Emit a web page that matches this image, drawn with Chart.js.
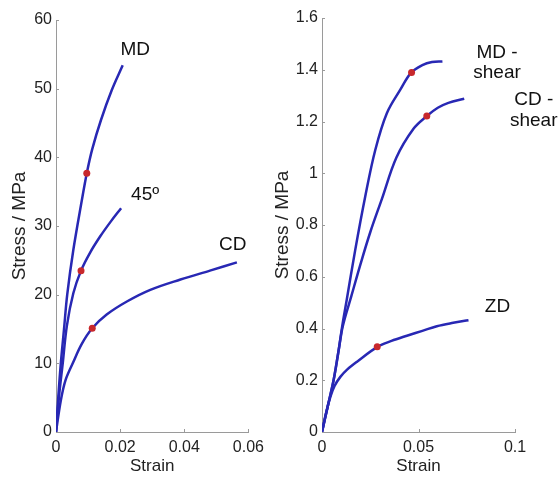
<!DOCTYPE html>
<html>
<head>
<meta charset="utf-8">
<script src="https://cdn.jsdelivr.net/npm/chart.js@4.4.1/dist/chart.umd.min.js"></script>
<style>
  body { margin: 0; background: #fff; }
  #wrap { position: relative; width: 559px; height: 479px; overflow: hidden; background: #fff; }
  canvas { position: absolute; top: 0; }
</style>
</head>
<body>
<div id="wrap">
  <canvas id="leftChart" width="270" height="479" style="left:0px"></canvas>
  <canvas id="rightChart" width="289" height="479" style="left:270px"></canvas>
</div>
<script>
// ---- left panel: in-plane tension (stress in MPa)
var mdStrain  = [0, 0.0007, 0.0015, 0.0025, 0.0035, 0.0054, 0.0080, 0.0096, 0.0113, 0.0140, 0.0174, 0.0208];
var mdStress  = [0, 5, 10, 15, 20, 26.5, 33.6, 37.7, 41.2, 45.4, 49.8, 53.4];
var degStrain = [0, 0.0009, 0.0021, 0.0034, 0.0054, 0.0078, 0.0106, 0.0138, 0.0170, 0.0203];
var degStress = [0, 5, 10, 15.5, 20.2, 23.5, 26.1, 28.5, 30.6, 32.6];
var cdStrain  = [0, 0.0015, 0.0030, 0.0054, 0.0080, 0.0113, 0.0158, 0.0221, 0.0294, 0.0388, 0.0480, 0.0564];
var cdStress  = [0, 4.6, 7.6, 10.2, 12.8, 15.1, 17.1, 19, 20.7, 22.2, 23.5, 24.7];
var leftDotStrain = [0.0096, 0.0078, 0.0113];
var leftDotStress = [37.7, 23.5, 15.1];
var leftXTicks = [0, 0.02, 0.04, 0.06];
var leftXLabels = ['0', '0.02', '0.04', '0.06'];
var leftYTicks = [0, 10, 20, 30, 40, 50, 60];
var leftYLabels = ['0', '10', '20', '30', '40', '50', '60'];
var leftNames = ['MD', '45º', 'CD'];

// ---- right panel: shear and out-of-plane (stress in MPa)
var mdsStrain = [0, 0.003, 0.006, 0.0085, 0.0105, 0.0128, 0.0172, 0.0224, 0.0276, 0.0336, 0.0405, 0.0462, 0.0520, 0.0570, 0.0624];
var mdsStress = [0, 0.1, 0.2, 0.31, 0.41, 0.51, 0.703, 0.91, 1.09, 1.232, 1.322, 1.389, 1.418, 1.43, 1.432];
var cdsStrain = [0, 0.003, 0.006, 0.0085, 0.0108, 0.0152, 0.0198, 0.0250, 0.0310, 0.0385, 0.0474, 0.0543, 0.0600, 0.0655, 0.0737];
var cdsStress = [0, 0.1, 0.2, 0.31, 0.41, 0.525, 0.645, 0.772, 0.9, 1.06, 1.172, 1.221, 1.253, 1.272, 1.288];
var zdStrain  = [0, 0.002, 0.0043, 0.0065, 0.0095, 0.013, 0.018, 0.0287, 0.036, 0.044, 0.052, 0.0595, 0.068, 0.0759];
var zdStress  = [0, 0.07, 0.135, 0.178, 0.213, 0.241, 0.271, 0.329, 0.352, 0.372, 0.391, 0.409, 0.422, 0.432];
var rightDotStrain = [0.0464, 0.0543, 0.0286];
var rightDotStress = [1.389, 1.221, 0.329];
var rightXTicks = [0, 0.05, 0.1];
var rightXLabels = ['0', '0.05', '0.1'];
var rightYTicks = [0, 0.2, 0.4, 0.6, 0.8, 1, 1.2, 1.4, 1.6];
var rightYLabels = ['0', '0.2', '0.4', '0.6', '0.8', '1', '1.2', '1.4', '1.6'];
var rightNames = [['MD -', 'shear'], ['CD -', 'shear'], ['ZD']];

// where the curve names sit, in data units
var leftNameX = [0.0247, 0.0278, 0.0551];
var leftNameY = [55.7, 34.5, 27.3];
var rightNameX = [0.0907, 0.1097, 0.0909];
var rightNameY = [1.466, 1.283, 0.484];

var FONT = "'Liberation Sans', Arial, sans-serif";
var LINE = '#2828b4';
var DOT = '#c8282c';

function zip(xs, ys) {
  var out = [];
  for (var i = 0; i < xs.length; i++) out.push({x: xs[i], y: ys[i]});
  return out;
}

function curve(xs, ys) {
  return {
    data: zip(xs, ys),
    borderColor: LINE,
    borderWidth: 2.5,
    pointRadius: 0,
    showLine: true,
    tension: 0.35,
    fill: false,
    order: 2
  };
}

function dots(xs, ys) {
  return {
    data: zip(xs, ys),
    showLine: false,
    pointRadius: 3.5,
    pointBackgroundColor: DOT,
    pointBorderColor: DOT,
    pointBorderWidth: 0,
    order: 1
  };
}

// small tick marks pointing into the plot, like the original
const innerTicks = {
  id: 'innerTicks',
  beforeDatasetsDraw(chart) {
    const {ctx, chartArea, scales} = chart;
    ctx.save();
    ctx.strokeStyle = '#9a9a9a';
    ctx.lineWidth = 1;
    scales.x.ticks.forEach(t => {
      const px = Math.round(scales.x.getPixelForValue(t.value)) + 0.5;
      ctx.beginPath();
      ctx.moveTo(px, chartArea.bottom);
      ctx.lineTo(px, chartArea.bottom - 3);
      ctx.stroke();
    });
    scales.y.ticks.forEach(t => {
      const py = Math.round(scales.y.getPixelForValue(t.value)) + 0.5;
      ctx.beginPath();
      ctx.moveTo(chartArea.left, py);
      ctx.lineTo(chartArea.left + 3, py);
      ctx.stroke();
    });
    ctx.restore();
  }
};

const curveNames = {
  id: 'curveNames',
  afterDraw(chart, args, opts) {
    const ctx = chart.ctx;
    const sx = chart.scales.x, sy = chart.scales.y;
    ctx.save();
    ctx.font = '19px ' + FONT;
    ctx.fillStyle = '#111';
    ctx.textAlign = 'center';
    ctx.textBaseline = 'middle';
    opts.names.forEach((name, i) => {
      const lines = Array.isArray(name) ? name : [name];
      const px = sx.getPixelForValue(opts.xs[i]);
      const py = sy.getPixelForValue(opts.ys[i]);
      lines.forEach((s, j) => ctx.fillText(s, px, py + j * 20.5));
    });
    ctx.restore();
  }
};

function makePanel(id, cfg) {
  return new Chart(document.getElementById(id), {
    type: 'scatter',
    data: { datasets: cfg.datasets },
    plugins: [innerTicks, curveNames],
    options: {
      responsive: false,
      animation: false,
      devicePixelRatio: 1,
      layout: { padding: { left: 0, right: cfg.padRight, top: cfg.padTop, bottom: 0 } },
      plugins: {
        legend: { display: false },
        tooltip: { enabled: false },
        curveNames: { names: cfg.names, xs: cfg.nameX, ys: cfg.nameY }
      },
      scales: {
        x: {
          type: 'linear',
          min: cfg.xTicks[0],
          max: cfg.xTicks[cfg.xTicks.length - 1],
          afterBuildTicks: s => { s.ticks = cfg.xTicks.map(v => ({value: v})); },
          afterFit: s => { s.height = 47; },
          grid: { display: true, drawOnChartArea: false, drawTicks: false },
          border: { display: true, color: '#9a9a9a', width: 1 },
          ticks: {
            padding: 6,
            color: '#222',
            font: { family: FONT, size: 16 },
            maxRotation: 0,
            autoSkip: false,
            callback: (v, i) => cfg.xLabels[i]
          },
          title: {
            display: true,
            text: 'Strain',
            color: '#222',
            font: { family: FONT, size: 17 },
            padding: { top: 0, bottom: 2 }
          }
        },
        y: {
          type: 'linear',
          min: cfg.yTicks[0],
          max: cfg.yTicks[cfg.yTicks.length - 1],
          afterBuildTicks: s => { s.ticks = cfg.yTicks.map(v => ({value: v})); },
          afterFit: s => { s.width = cfg.yWidth; },
          grid: { display: true, drawOnChartArea: false, drawTicks: false },
          border: { display: true, color: '#9a9a9a', width: 1 },
          ticks: {
            padding: 4,
            color: '#222',
            font: { family: FONT, size: 16 },
            autoSkip: false,
            callback: (v, i) => cfg.yLabels[i]
          },
          title: {
            display: true,
            text: 'Stress / MPa',
            color: '#222',
            font: { family: FONT, size: 19 },
            padding: { top: cfg.titlePad, bottom: 0 }
          }
        }
      }
    }
  });
}

makePanel('leftChart', {
  datasets: [
    curve(mdStrain, mdStress),
    curve(degStrain, degStress),
    curve(cdStrain, cdStress),
    dots(leftDotStrain, leftDotStress)
  ],
  xTicks: leftXTicks, xLabels: leftXLabels,
  yTicks: leftYTicks, yLabels: leftYLabels,
  names: leftNames, nameX: leftNameX, nameY: leftNameY,
  yWidth: 56, padRight: 21, padTop: 20, titlePad: 8.6
});

makePanel('rightChart', {
  datasets: [
    curve(mdsStrain, mdsStress),
    curve(cdsStrain, cdsStress),
    curve(zdStrain, zdStress),
    dots(rightDotStrain, rightDotStress)
  ],
  xTicks: rightXTicks, xLabels: rightXLabels,
  yTicks: rightYTicks, yLabels: rightYLabels,
  names: rightNames, nameX: rightNameX, nameY: rightNameY,
  yWidth: 52, padRight: 44, padTop: 18, titlePad: 1.6
});
</script>
</body>
</html>
